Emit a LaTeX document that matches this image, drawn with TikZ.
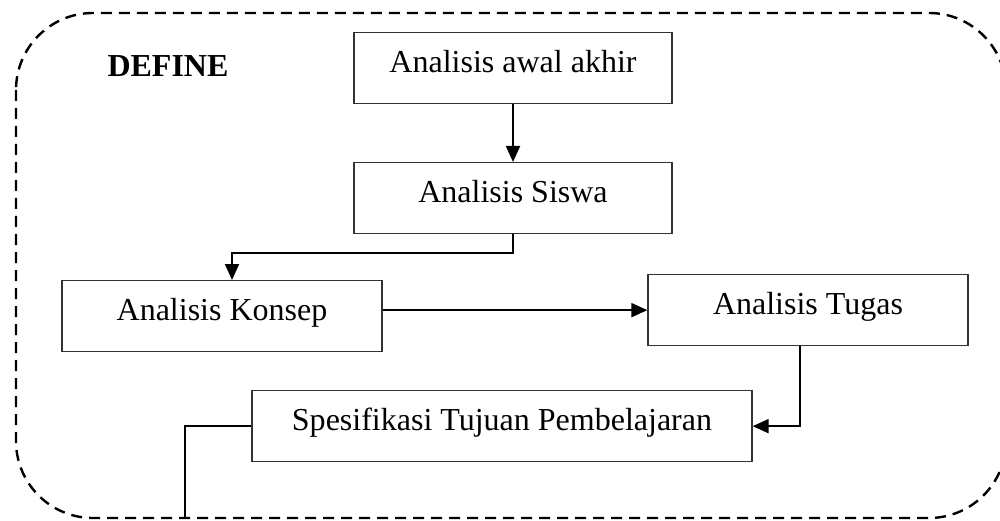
\documentclass[tikz,border=0pt]{standalone}
\usepackage{fontspec}
\setmainfont{Liberation Serif}
\usepackage{tikz}
\usetikzlibrary{arrows.meta}
\tikzset{
	tahap/.style={draw=black!80, line width=1.3pt, inner xsep=0pt, inner ysep=0pt,
		text height=40pt, text depth=31pt, font=\fontsize{32}{38}\selectfont},
	alur/.style={line width=2pt, -{Triangle[length=16pt,width=14pt]}},
	garis/.style={line width=2pt},
	batas/.style={line width=2.4pt, dash pattern=on 11pt off 7pt, rounded corners=77pt}
}

\begin{document}
\begin{tikzpicture}[x=1pt, y=-1pt]
		%%%%% START %%%%%
		\useasboundingbox (0, 0) rectangle (1000, 521);
		
		\draw[batas] (16, 13) rectangle (1006, 518);
		
		\node[font=\bfseries\fontsize{32}{38}\selectfont] (define) at (168, 66) {DEFINE};
		
		\node[tahap, minimum width=318pt] (awal) at (513, 32) [anchor=north] {Analisis awal akhir};
		\node[tahap, minimum width=318pt] (siswa) at (513, 162) [anchor=north] {Analisis Siswa};
		\node[tahap, minimum width=320pt] (konsep) at (222, 280) [anchor=north] {Analisis Konsep};
		\node[tahap, minimum width=320pt] (tugas) at (808, 274) [anchor=north] {Analisis Tugas};
		\node[tahap, minimum width=500pt] (tujuan) at (502, 390) [anchor=north] {Spesifikasi Tujuan Pembelajaran};
		\coordinate (keluar) at (185, 518);
		
		\draw[alur] (awal) -- (siswa);
		\draw[alur] (siswa.south) -- ++(0, 19) -| ([xshift=10pt]konsep.north);
		\draw[alur] (tugas.west -| konsep.east) -- (tugas.west);
		\draw[alur] ([xshift=-8pt]tugas.south) |- (tujuan.east);
		\draw[garis] (tujuan.west) -| (keluar);
		
		%%%%% END %%%%%
	\end{tikzpicture}
\end{document}
